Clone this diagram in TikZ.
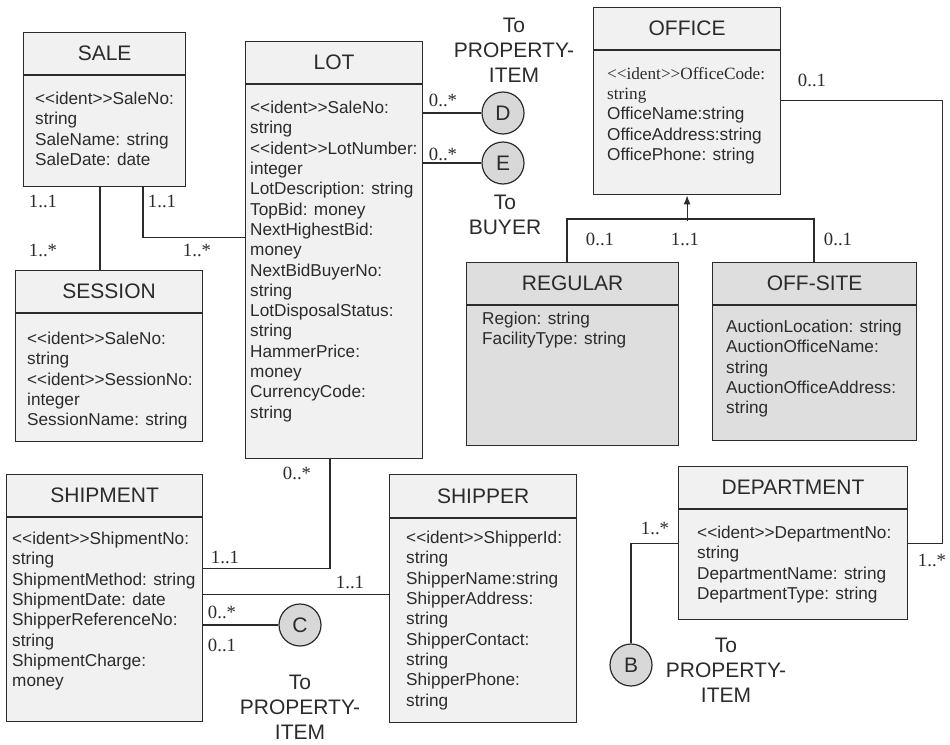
\documentclass[tikz,border=0pt]{standalone}
\usepackage{fontspec}
\setmainfont{Liberation Sans}
\newfontfamily\timesf{Liberation Serif}
\usetikzlibrary{arrows.meta}

\definecolor{ink}{HTML}{2B2B2B}
\definecolor{boxc}{HTML}{F1F1F1}
\definecolor{subc}{HTML}{DEDEDF}
\definecolor{circc}{HTML}{D8D8D8}

\newcommand{\attrfont}{\fontsize{17.2}{20.3}\selectfont}
\newcommand{\titlefont}{\fontsize{21}{25}\selectfont}
\newcommand{\multfont}{\timesf\fontsize{18.7}{20}\selectfont}
% stereotype tag, braces keep << >> from turning into guillemets
\newcommand{\idt}{<{}<ident>{}>}

\begin{document}
\begin{tikzpicture}
  [x=1pt,y=-1pt,
   head/.style={draw=ink,fill=boxc,line width=1.2pt,anchor=north west,inner sep=0pt,
     minimum height=42pt,font=\titlefont,text=ink},
   body/.style={draw=ink,fill=boxc,line width=1.2pt,anchor=north west,inner sep=0pt},
   attr/.style={anchor=north west,inner sep=0pt,align=left,font=\attrfont,text=ink,
     execute at begin node=\strut},
   mult/.style={font=\multfont,text=ink,inner sep=0pt},
   conn/.style={draw=ink,line width=1.2pt},
   link/.style={circle,draw=ink,fill=circc,line width=1.2pt,minimum size=42pt,
     inner sep=0pt,font=\titlefont,text=ink},
   note/.style={align=center,font=\titlefont,text=ink,inner sep=0pt}]
  \useasboundingbox (0,0) rectangle (950,744);

  % classes
  \node[head,minimum width=162pt] (sale) at (23,32) {SALE};
  \node[body,minimum width=162pt,minimum height=111pt] (sale-body) at (sale.south west) {};
  \node[attr] (sale-attr) at (35,92) {\idt SaleNo:\\string\\SaleName: string\\SaleDate: date};

  \node[head,minimum width=177pt] (lot) at (245,41) {LOT};
  \node[body,minimum width=177pt,minimum height=374pt] (lot-body) at (lot.south west) {};
  \node[attr] (lot-attr) at (250,101) {\idt SaleNo:\\string\\\idt LotNumber:\\integer\\
    LotDescription: string\\TopBid: money\\NextHighestBid:\\money\\NextBidBuyerNo:\\string\\
    LotDisposalStatus:\\string\\HammerPrice:\\money\\CurrencyCode:\\string};

  \node[head,minimum width=187pt] (session) at (15,270) {SESSION};
  \node[body,minimum width=187pt,minimum height=128pt] (session-body) at (session.south west) {};
  \node[attr] (session-attr) at (27,332) {\idt SaleNo:\\string\\\idt SessionNo:\\integer\\
    SessionName: string};

  \node[head,minimum width=187pt] (office) at (593,7) {OFFICE};
  \node[body,minimum width=187pt,minimum height=144pt] (office-body) at (office.south west) {};
  \node[attr] (office-attr) at (607,67) {{\timesf\idt OfficeCode:}\\{\timesf string}\\
    OfficeName:string\\OfficeAddress:string\\OfficePhone: string};

  \node[head,fill=subc,minimum width=212pt] (regular) at (466,262) {REGULAR};
  \node[body,fill=subc,minimum width=212pt,minimum height=140pt] (regular-body) at (regular.south west) {};
  \node[attr] (regular-attr) at (482,312) {Region: string\\FacilityType: string};

  \node[head,fill=subc,minimum width=204pt] (offsite) at (712,262) {OFF-SITE};
  \node[body,fill=subc,minimum width=204pt,minimum height=135pt] (offsite-body) at (offsite.south west) {};
  \node[attr] (offsite-attr) at (726,320) {AuctionLocation: string\\AuctionOfficeName:\\string\\
    AuctionOfficeAddress:\\string};

  \node[head,minimum width=196pt] (ship) at (6,474) {SHIPMENT};
  \node[body,minimum width=196pt,minimum height=204pt] (ship-body) at (ship.south west) {};
  \node[attr] (ship-attr) at (12,532) {\idt ShipmentNo:\\string\\ShipmentMethod: string\\
    ShipmentDate: date\\ShipperReferenceNo:\\string\\ShipmentCharge:\\money};

  \node[head,minimum width=187pt,minimum height=43pt] (shipper) at (389,474) {SHIPPER};
  \node[body,minimum width=187pt,minimum height=204pt] (shipper-body) at (shipper.south west) {};
  \node[attr] (shipper-attr) at (406,531) {\idt ShipperId:\\string\\ShipperName:string\\
    ShipperAddress:\\string\\ShipperContact:\\string\\ShipperPhone:\\string};

  \node[head,minimum width=229pt] (dept) at (678,466) {DEPARTMENT};
  \node[body,minimum width=229pt,minimum height=110pt] (dept-body) at (dept.south west) {};
  \node[attr] (dept-attr) at (697,526) {\idt DepartmentNo:\\string\\DepartmentName: string\\
    DepartmentType: string};

  % off-page connectors
  \node[link] (d) at (503,113) {D};
  \node[link] (e) at (503,163) {E};
  \node[link] (c) at (300,625) {C};
  \node[link] (b) at (631,665) {B};
  \node[note] (d-note) at (514,50) {To\\PROPERTY-\\ITEM};
  \node[note] (e-note) at (505,215) {To\\BUYER};
  \node[note] (c-note) at (300,707) {To\\PROPERTY-\\ITEM};
  \node[note] (b-note) at (726,670) {To\\PROPERTY-\\ITEM};

  % associations
  \draw[conn] ([xshift=77pt]sale-body.south west) -- ([xshift=85pt]session.north west);
  \draw[conn] ([xshift=120pt]sale-body.south west) |- ([yshift=-153pt]lot-body.north west);
  \draw[conn] (lot-body.east |- d) -- (d);
  \draw[conn] (lot-body.east |- e) -- (e);
  \draw[conn] ([yshift=-50pt]office-body.north east) -- ++(161,0) |- ([yshift=-34pt]dept-body.north east);
  \draw[conn] ([yshift=-34pt]dept-body.north west) -| (b);
  \draw[conn] ([xshift=85pt]lot-body.south west) |- ([yshift=-51pt]ship-body.north east);
  \draw[conn] ([yshift=-77pt]ship-body.north east) -- ([yshift=-76pt]shipper-body.north west);
  \draw[conn] (c -| ship-body.east) -- (c);

  % generalisation
  \draw[conn] ([xshift=101pt]regular.north west) -- ++(0,-43) -| ([xshift=102pt]offsite.north west);
  \draw[conn,-{Latex[length=9pt,width=7pt]}] ([yshift=-26pt]office-body.south) -- (office-body.south);

  % multiplicities
  \node[mult] (m1) at (43,201) {1..1};
  \node[mult] (m2) at (43,250) {1..*};
  \node[mult] (m3) at (162,201) {1..1};
  \node[mult] (m4) at (197,250) {1..*};
  \node[mult] (m5) at (443,100) {0..*};
  \node[mult] (m6) at (443,154) {0..*};
  \node[mult] (m7) at (812,80) {0..1};
  \node[mult] (m8) at (600,239) {0..1};
  \node[mult] (m9) at (685,239) {1..1};
  \node[mult] (m10) at (838,239) {0..1};
  \node[mult] (m11) at (297,473) {0..*};
  \node[mult] (m12) at (225,557) {1..1};
  \node[mult] (m13) at (350,582) {1..1};
  \node[mult] (m14) at (222,612) {0..*};
  \node[mult] (m15) at (222,645) {0..1};
  \node[mult] (m16) at (655,528) {1..*};
  \node[mult] (m17) at (932,560) {1..*};
\end{tikzpicture}
\end{document}
